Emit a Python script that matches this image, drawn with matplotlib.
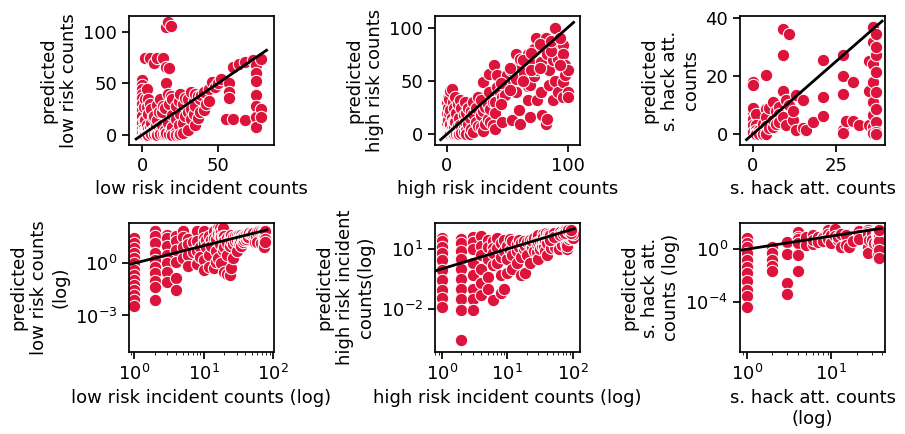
import numpy as np
from matplotlib import pyplot as plt
from matplotlib import ticker

# low risk incidents: observed counts and model predictions
low_obs = [0] * 11 + [1] * 14 + [2] * 10 + [3] * 7 + [4] * 6 + [5] * 4 + [6] * 4 + [7] * 2 \
    + [8] * 4 + [9] * 2 + [10] * 5 + [11] * 2 + [12] * 3 + [13] * 2 + [14] * 3 + [15] * 3 \
    + [16] * 4 + [17] * 3 + [18] * 3 + [19] * 3 + [20] * 4 + [22] * 4 + [24] * 3 + [25] * 3 \
    + [27] * 3 + [28] * 2 + [30] * 3 + [32] * 3 + [34] * 2 + [35] * 3 + [37] * 2 + [38] * 2 \
    + [39] + [41] * 2 + [42] + [44] * 2 + [46] + [48] + [50] + [52] + [55] + [57] * 3 \
    + [60] * 2 + [64] + [68] * 2 + [73] + [75] * 7 + [78] * 3
low_pred = [53, 48, 44, 40, 36, 30, 24, 18, 12, 6, 2,
            27, 14, 7.2, 3.7, 1.9, 1.0, 0.41, 0.21, 0.11, 0.056, 0.029, 0.015, 0.008, 0.0033,
            74, 35, 14, 3.7, 1.5, 0.64, 0.27, 0.09, 0.046, 0.008,
            44, 27, 10, 3, 1, 0.3, 0.08,
            35, 20, 6, 1.2, 0.14, 0.029,
            74, 30, 8, 2,
            25, 12, 3, 0.7,
            17, 4.5,
            70, 18, 5, 0.9,
            9, 2.2,
            74, 29, 14, 1.5, 0.4,
            22, 8,
            35, 3, 0.6,
            22.6, 10,
            74, 28, 0.5,
            25.8, 5, 1.2,
            104, 65.8, 50.6, 2,
            109, 40, 12,
            64.8, 30, 1,
            105, 38, 6,
            35, 19, 8, 0.3,
            28, 15, 3, 0.25,
            33, 10, 0.2,
            40, 20, 0.5,
            30, 12, 2,
            36, 18,
            35, 22, 5,
            41.6, 25, 15,
            33, 20,
            39.9, 28, 10,
            38, 16,
            35, 22.6,
            38.3,
            41.6, 24.2,
            30,
            44, 33,
            51,
            46,
            50,
            54.5,
            15.8,
            50, 42, 35.6,
            65.8, 15.8,
            68.9,
            70.6, 14,
            72.2,
            68, 60, 52, 39, 28, 17, 8,
            73.7, 25.4, 17.4]

# high risk incidents
high_obs = [0] * 4 + [1] * 10 + [2] * 10 + [3] * 8 + [4] * 6 + [5] * 5 + [6] * 5 + [7] * 3 \
    + [8] * 4 + [9] * 3 + [10] * 3 + [11] * 2 + [12] * 3 + [14] * 3 + [15] * 2 + [16] * 3 \
    + [18] * 2 + [19] * 2 + [20] * 2 + [22] * 3 + [24] * 2 + [26] * 2 + [28] * 3 + [30] * 3 \
    + [32] * 2 + [34] * 2 + [35] * 2 + [36] * 2 + [38] * 2 + [39] + [40] * 3 + [42] * 2 \
    + [44] + [46] * 2 + [48] * 2 + [50] + [53] * 2 + [54] + [57] * 3 + [60] * 2 + [61] * 2 \
    + [64] + [67] * 3 + [69] * 3 + [72] * 2 + [74] * 2 + [75] + [78] * 2 + [79] + [82] * 2 \
    + [83] * 2 + [85] * 2 + [88] * 3 + [90] * 2 + [92] * 3 + [96] * 4 + [98] * 2 + [100] * 3 \
    + [45] * 2 + [52] * 2 + [63] * 2 + [70] * 2 + [77] * 2 + [86] * 2 + [94] * 2
high_pred = [2, 10, 20, 30,
             34.5, 25, 13, 6, 2.8, 0.89, 0.28, 0.087, 0.033, 0.0126,
             33.6, 20, 8, 3, 1, 0.3, 0.1, 0.03, 0.0085, 0.00027,
             41, 22.5, 10, 2, 0.5, 0.1, 0.03, 0.0085,
             42.8, 15, 5, 1, 0.2, 0.05,
             30, 12, 3, 0.4, 0.1,
             25, 11.6, 6, 1.5, 0.027,
             11.6, 35, 2,
             20, 4, 0.5, 0.06,
             28, 8, 0.1,
             15, 3, 0.6,
             32, 9,
             25, 5, 1,
             8.4, 18, 2,
             30, 12,
             20, 4, 0.5,
             10, 25,
             0.6, 15,
             22, 5,
             19.5, 30, 2,
             12, 25,
             35, 8,
             6.9, 32, 18,
             49, 22, 3,
             26, 10,
             14.7, 28,
             57, 40,
             24.1, 12,
             8.4, 30,
             64.7,
             30.4, 20, 5.3,
             55.3, 44,
             40,
             11.6, 35,
             36.6, 50,
             55.3,
             47.6, 60,
             13.2,
             75.6, 39.7, 52,
             22.5, 65,
             71, 10,
             58,
             75.6, 32, 45,
             67.8, 46, 16.4,
             80, 55,
             90, 60,
             32,
             67.8, 40,
             17.9,
             90, 10,
             14.7, 75,
             60, 46,
             83.5, 32, 70,
             100, 50,
             85, 71, 40,
             83.5, 49, 35, 75,
             64.7, 55.3,
             39.7, 35, 60,
             48, 28,
             62, 42,
             70, 50,
             76, 60,
             85, 62,
             78, 88,
             65, 90]

# successful hack attempts
hack_obs = [0] * 7 + [1] * 11 + [2] * 5 + [3] * 4 + [4] * 6 + [5] * 2 + [6] * 3 + [7] * 2 \
    + [8] * 3 + [9] * 4 + [10] * 2 + [11] * 2 + [12] * 2 + [13] * 2 + [15] * 2 + [16] + [18] \
    + [21] * 3 + [27] * 5 + [28] + [30] * 2 + [32] + [35] * 3 + [36] * 8 + [37] * 10
hack_pred = [17.9, 16.8, 7.7, 5.4, 3.1, 0.8, 9,
             6.9, 3, 1.6, 0.5, 0.15, 0.047, 0.015, 0.0034, 0.0008, 0.00025, 4.1e-5,
             1.5, 0.5, 0.15, 0.05, 0.02,
             3.4, 0.4, 0.0025, 0.0004,
             20.4, 8.8, 6, 2.9, 0.38, 0.022,
             9, 2,
             11.1, 2.5, 5,
             8, 3.5,
             9.3, 7, 4.2,
             36, 27.1, 15, 6,
             11.6, 3,
             34.5, 10,
             4.8, 8,
             13.4, 1.4,
             11.6, 2,
             1.4,
             4.2,
             25.6, 12.8, 6.1,
             27.1, 19.9, 13.9, 1.4, 0.5,
             4.7,
             17.9, 4.7,
             3.2,
             3, 15, 25,
             36.8, 31.6, 24.2, 17.9, 11.1, 6.5, 2.5, 0.5,
             34.5, 29.4, 27.1, 21.3, 14.5, 8.8, 4.2, 0.8, 0.2, 30]

xlabels = ['low risk incident counts', 'high risk incident counts', 's. hack att. counts']
ylabels = ['predicted\nlow risk counts', 'predicted\nhigh risk counts',
           'predicted\ns. hack att.\ncounts']
xlabels_log = ['low risk incident counts (log)', 'high risk incident counts (log)',
               's. hack att. counts\n(log)']
ylabels_log = ['predicted\nlow risk counts\n(log)', 'predicted\nhigh risk incident\ncounts(log)',
               'predicted\ns. hack att.\ncounts (log)']

plt.rcParams['font.size'] = 13
plt.rcParams['axes.linewidth'] = 1.25
plt.rcParams['xtick.major.width'] = 1.25
plt.rcParams['ytick.major.width'] = 1.25
plt.rcParams['xtick.major.size'] = 5
plt.rcParams['ytick.major.size'] = 5

fig = plt.figure(figsize=(9.05, 4.34), dpi=100)
lefts = [129 / 905, 435 / 905, 740 / 905]
w, h = 145 / 905, 129 / 434

datasets = [(low_obs, low_pred), (high_obs, high_pred), (hack_obs, hack_pred)]
lin_xlim = [(-8.6, 86.8), (-9.7, 110.3), (-3.8, 39.7)]
lin_ylim = [(-9.7, 115), (-10, 111), (-3.7, 40.6)]
lin_xticks = [[0, 50], [0, 100], [0, 25]]
lin_yticks = [[0, 50, 100], [0, 50, 100], [0, 20, 40]]
log_xlim = [(0.84, 104), (0.79, 129), (0.83, 43)]
log_ylim = [(8e-6, 204), (6.6e-5, 204), (1.4e-8, 100)]
log_yticks = [[1e-3, 1e0], [1e-2, 1e1], [1e-4, 1e0]]

for i, (obs, pred) in enumerate(datasets):
    obs = np.array(obs, dtype=float)
    pred = np.array(pred, dtype=float)
    span = obs.max() - obs.min()
    diag = [obs.min() - 0.05 * span, obs.max() + 0.05 * span]

    ax = fig.add_axes([lefts[i], 1 - 145 / 434, w, h])
    ax.scatter(obs, pred, s=80, color='crimson', edgecolor='white', linewidth=0.75)
    ax.plot(diag, diag, color='black', lw=2)
    ax.set_xlim(lin_xlim[i])
    ax.set_ylim(lin_ylim[i])
    ax.set_xticks(lin_xticks[i])
    ax.set_yticks(lin_yticks[i])
    ax.set_xlabel(xlabels[i])
    ax.set_ylabel(ylabels[i])

    ax = fig.add_axes([lefts[i], 1 - 352 / 434, w, h])
    msk = (obs > 0) & (pred > 0)
    ax.scatter(obs[msk], pred[msk], s=80, color='crimson', edgecolor='white', linewidth=0.75)
    ax.plot(diag, diag, color='black', lw=2)
    ax.set_xscale('log')
    ax.set_yscale('log')
    ax.set_xlim(log_xlim[i])
    ax.set_ylim(log_ylim[i])
    ax.set_yticks(log_yticks[i])
    ax.yaxis.set_minor_locator(ticker.NullLocator())
    ax.set_xlabel(xlabels_log[i])
    ax.set_ylabel(ylabels_log[i])

fig.savefig('out.png', dpi=100)
